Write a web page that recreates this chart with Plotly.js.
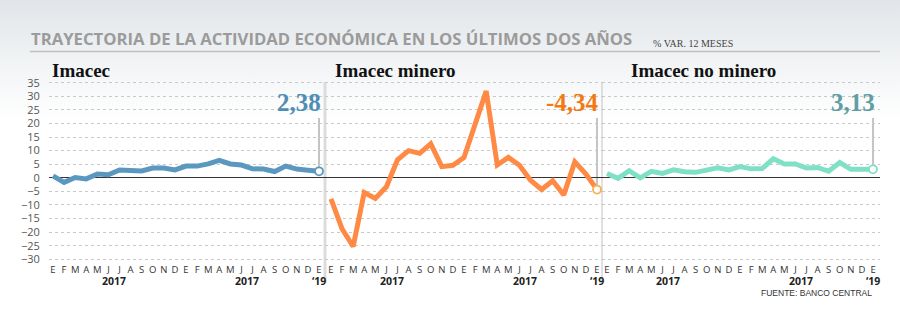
<!DOCTYPE html>
<html>
<head>
<meta charset="utf-8">
<script src="https://cdn.plot.ly/plotly-3.0.1.min.js"></script>
<style>
  html, body { margin:0; padding:0; }
  body { width:900px; height:326px; background: linear-gradient(to bottom, #e1e5e9 0px, #f3f5f6 70px, #ffffff 120px, #ffffff 326px); overflow:hidden; }
  #chart { width:900px; height:326px; }
</style>
</head>
<body>
<div id="chart"></div>
<script>
// ---- data ----
const months = ['E','F','M','A','M','J','J','A','S','O','N','D','E','F','M','A','M','J','J','A','S','O','N','D','E'];
const yearLabels = ['2017', '2017', '\u201819'];
const yearPos = [5.5, 17.5, 24];
const imacec   = [0.7,-1.7,0.1,-0.4,1.4,1.1,2.9,2.7,2.5,3.6,3.6,2.9,4.3,4.3,5.1,6.4,5.1,4.7,3.3,3.2,2.3,4.3,3.2,2.8,2.38];
const minero   = [-7.8,-18.8,-25.3,-5.4,-7.6,-3.3,6.6,10.0,9.0,12.5,4.1,4.6,7.5,20.1,31.9,4.7,7.5,4.6,-0.9,-4.3,-1.1,-6.3,5.9,1.4,-4.34];
const noMinero = [1.6,-0.2,2.6,0.0,2.4,1.6,2.9,2.2,2.0,2.9,3.7,2.9,4.1,3.3,3.4,7.0,5.1,5.1,3.6,3.8,2.4,5.6,3.1,3.1,3.13];
const panelTitles = ['Imacec', 'Imacec minero', 'Imacec no minero'];
const lastLabels = ['2,38', '\u20114,34', '3,13'];
const yTicks = [-30,-25,-20,-15,-10,-5,0,5,10,15,20,25,30,35];

const idx = months.map((_, i) => i);
const series = [imacec, minero, noMinero];
const lineColors = ['#5b98bf', '#ff8a45', '#80e0c6'];
const markerLine = ['#5b98bf', '#f9b04f', '#80e0c6'];
const labelColors = ['#4e8db6', '#f27a12', '#5f9ea4'];
const axSuffix = ['', '2', '3'];

const W = 900, H = 326, mL = 49, mR = 20, mT = 80, mB = 64;
const pw = W - mL - mR, ph = H - mT - mB;
const px2x = px => (px - mL) / pw;
const py2y = py => (H - mB - py) / ph;
const domains = [[0, px2x(325)], [px2x(325), px2x(602)], [px2x(602), 1]];
const ranges = [[-0.36, 24.54], [-0.54, 24.45], [-0.45, 24.63]];

const data = [];
const layout = {
  width: W, height: H,
  margin: {l: mL, r: mR, t: mT, b: mB},
  paper_bgcolor: 'rgba(0,0,0,0)',
  plot_bgcolor: 'rgba(0,0,0,0)',
  showlegend: false,
  font: {family: 'Open Sans, sans-serif', color: '#333'},
  annotations: [],
  shapes: []
};

series.forEach((vals, k) => {
  const s = axSuffix[k];
  const n = vals.length - 1;
  data.push({
    x: idx, y: vals, xaxis: 'x' + s, yaxis: 'y' + s,
    type: 'scatter', mode: 'lines',
    line: {color: lineColors[k], width: 5},
    hoverinfo: 'skip'
  });
  data.push({
    x: [idx[n]], y: [vals[n]], xaxis: 'x' + s, yaxis: 'y' + s,
    type: 'scatter', mode: 'markers',
    marker: {size: 8, color: '#ffffff', line: {color: markerLine[k], width: 1.8}},
    hoverinfo: 'skip'
  });
  layout['xaxis' + s] = {
    domain: domains[k], range: ranges[k], anchor: 'y' + s,
    tickmode: 'array', tickvals: idx, ticktext: months,
    showgrid: false, zeroline: false, showline: false, ticks: '',
    tickfont: {family: 'Open Sans, sans-serif', size: 9.5, color: '#333'},
    fixedrange: true
  };
  layout['yaxis' + s] = {
    range: [-31, 36], anchor: 'x' + s,
    tickmode: 'array', tickvals: yTicks,
    showticklabels: k === 0,
    showgrid: true, gridcolor: '#c9c9c9', griddash: 'dot', gridwidth: 1,
    zeroline: true, zerolinecolor: '#333333', zerolinewidth: 1.3,
    showline: false, ticks: k === 0 ? 'outside' : '', ticklen: 6, tickcolor: 'rgba(0,0,0,0)',
    tickfont: {family: 'Open Sans, sans-serif', size: 11, color: '#555'},
    fixedrange: true
  };
  if (k > 0) layout['yaxis' + s].matches = 'y';
  // leader line
  layout.shapes.push({
    type: 'line', xref: 'x' + s, yref: 'y' + s,
    x0: idx[n], x1: idx[n], y0: vals[n], y1: 22,
    line: {color: '#8a8a8a', width: 1}, layer: 'below'
  });
  // value label
  layout.annotations.push({
    xref: 'x' + s, yref: 'paper', x: idx[n] + 0.35, y: py2y(102),
    xanchor: 'right', yanchor: 'middle', showarrow: false,
    text: '<b>' + lastLabels[k] + '</b>',
    font: {family: 'Liberation Serif, serif', size: 25, color: labelColors[k]}
  });
  // panel title
  layout.annotations.push({
    xref: 'paper', yref: 'paper', x: px2x([50, 333, 629][k]), y: py2y(70),
    xanchor: 'left', yanchor: 'middle', showarrow: false,
    text: '<b>' + panelTitles[k] + '</b>',
    font: {family: 'Liberation Serif, serif', size: 19, color: '#111'}
  });
  // year labels
  yearLabels.forEach((t, j) => {
    layout.annotations.push({
      xref: 'x' + s, yref: 'paper', x: yearPos[j], y: py2y(281),
      xanchor: 'center', yanchor: 'middle', showarrow: false,
      text: '<b>' + t + '</b>',
      font: {family: 'Open Sans, sans-serif', size: 10.5, color: '#222'}
    });
  });
});

// panel dividers
layout.shapes.push({type: 'line', xref: 'paper', yref: 'paper', x0: px2x(325), x1: px2x(325), y0: py2y(82), y1: py2y(283), line: {color: '#dcdcdc', width: 3}, layer: 'below'});
layout.shapes.push({type: 'line', xref: 'paper', yref: 'paper', x0: px2x(602), x1: px2x(602), y0: py2y(82), y1: py2y(283), line: {color: '#cccccc', width: 1.2}, layer: 'below'});
// title rule
layout.shapes.push({type: 'line', xref: 'paper', yref: 'paper', x0: px2x(30), x1: px2x(880), y0: py2y(51.5), y1: py2y(51.5), line: {color: '#bfbfbf', width: 1.5}});

// main title
layout.annotations.push({
  xref: 'paper', yref: 'paper', x: px2x(29), y: py2y(39),
  xanchor: 'left', yanchor: 'middle', showarrow: false,
  text: '<b>TRAYECTORIA DE LA ACTIVIDAD ECONÓMICA EN LOS ÚLTIMOS DOS AÑOS</b>',
  font: {family: 'Open Sans, sans-serif', size: 16.7, color: '#9b9b9b'}
});
layout.annotations.push({
  xref: 'paper', yref: 'paper', x: px2x(651), y: py2y(43),
  xanchor: 'left', yanchor: 'middle', showarrow: false,
  text: '% VAR. 12 MESES',
  font: {family: 'Liberation Serif, serif', size: 10, color: '#444'}
});
layout.annotations.push({
  xref: 'paper', yref: 'paper', x: px2x(874), y: py2y(293),
  xanchor: 'right', yanchor: 'middle', showarrow: false,
  text: 'FUENTE: BANCO CENTRAL',
  font: {family: 'Liberation Sans Narrow, Liberation Sans, sans-serif', size: 8.5, color: '#333'}
});

Plotly.newPlot('chart', data, layout, {staticPlot: true, displayModeBar: false});
</script>
</body>
</html>
